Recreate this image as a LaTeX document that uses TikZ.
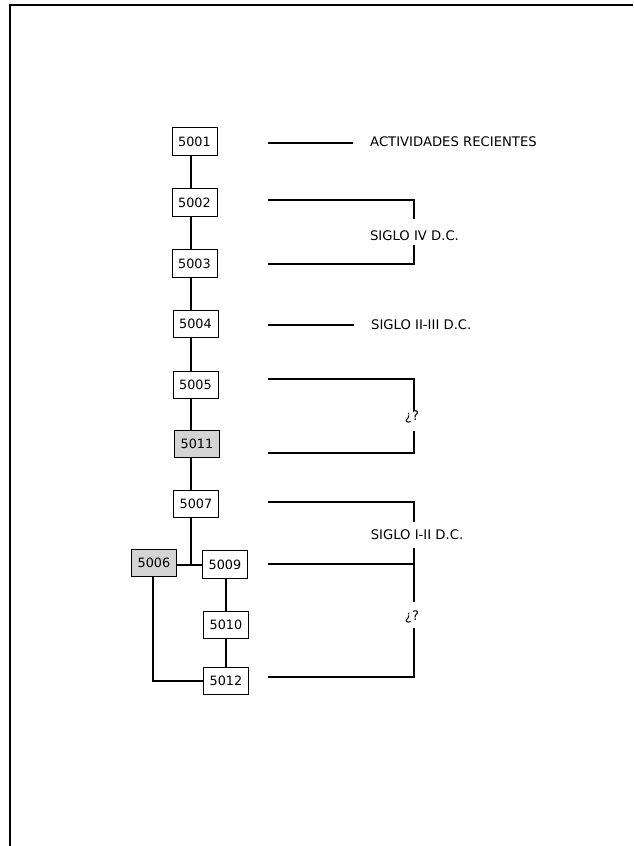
\documentclass[tikz,border=0pt]{standalone}
\usepackage{fontspec}
\setmainfont{DejaVu Sans}
\begin{document}
\begin{tikzpicture}[x=1pt,y=-1pt,
  box/.style={draw, line width=0.9pt, minimum width=45pt, minimum height=27.5pt, inner sep=0pt, font=\fontsize{12.8}{14}\selectfont},
  gbox/.style={box, fill=boxgray},
  conn/.style={line width=1.8pt},
  lab/.style={font=\fontsize{13.2}{14}\selectfont, inner sep=0pt},
  frame/.style={line width=2pt}]
\definecolor{boxgray}{RGB}{212,212,212}
\useasboundingbox (0,0) rectangle (633,846);
% frame
\draw[frame] (9.5,846) -- (9.5,4.5) -- (633,4.5);
% nodes
\node[box] (n5001) at (194.5,141.5) {5001};
\node[box] (n5002) at (194.5,202.5) {5002};
\node[box] (n5003) at (194.5,263.5) {5003};
\node[box] (n5004) at (195.5,324) {5004};
\node[box] (n5005) at (195.5,385) {5005};
\node[gbox] (n5011) at (197,444) {5011};
\node[box] (n5007) at (196,504) {5007};
\node[gbox] (n5006) at (154,563) {5006};
\node[box] (n5009) at (225,564.5) {5009};
\node[box] (n5010) at (226,625) {5010};
\node[box] (n5012) at (226,681) {5012};
% helper coordinates
\coordinate (T) at (191,0);
\coordinate (L) at (153,0);
\coordinate (R) at (226,0);
\coordinate (J) at (191,565);
% trunk
\draw[conn] (n5001.south -| T) -- (n5002.north -| T);
\draw[conn] (n5002.south -| T) -- (n5003.north -| T);
\draw[conn] (n5003.south -| T) -- (n5004.north -| T);
\draw[conn] (n5004.south -| T) -- (n5005.north -| T);
\draw[conn] (n5005.south -| T) -- (n5011.north -| T);
\draw[conn] (n5011.south -| T) -- (n5007.north -| T);
\draw[conn] (n5007.south -| T) -- (J);
\draw[conn] (n5006.east |- J) -- (n5009.west |- J);
\draw[conn] (n5009.south -| R) -- (n5010.north -| R);
\draw[conn] (n5010.south -| R) -- (n5012.north -| R);
\draw[conn] (n5006.south -| L) -- (L |- n5012.west) -- (n5012.west);
% right side
\coordinate (a1) at (268,143); \coordinate (a2) at (353,143);
\draw[conn] (a1) -- (a2);
\node[lab, anchor=west] (t1) at (370,142) {ACTIVIDADES RECIENTES};

\coordinate (b1) at (268,200); \coordinate (b2) at (414,200); \coordinate (b3) at (414,219);
\coordinate (b4) at (414,245); \coordinate (b5) at (414,264); \coordinate (b6) at (268,264);
\draw[conn] (b1) -- (b2) -- (b3);
\draw[conn] (b4) -- (b5) -- (b6);
\node[lab] (t2) at (414.5,236) {SIGLO IV D.C.};

\coordinate (c1) at (268,325); \coordinate (c2) at (354,325);
\draw[conn] (c1) -- (c2);
\node[lab, anchor=west] (t3) at (371,325) {SIGLO II-III D.C.};

\coordinate (d1) at (268,379); \coordinate (d2) at (414,379); \coordinate (d3) at (414,411);
\coordinate (d4) at (414,431); \coordinate (d5) at (414,453); \coordinate (d6) at (268,453);
\draw[conn] (d1) -- (d2) -- (d3);
\draw[conn] (d4) -- (d5) -- (d6);
\node[lab] (t4) at (412,417) {¿?};

\coordinate (e1) at (268,502); \coordinate (e2) at (414,502); \coordinate (e3) at (414,522);
\coordinate (e4) at (414,548); \coordinate (e5) at (414,602);
\coordinate (e6) at (268,564); \coordinate (e7) at (414,564);
\coordinate (e8) at (414,628); \coordinate (e9) at (414,677); \coordinate (e10) at (268,677);
\draw[conn] (e1) -- (e2) -- (e3);
\draw[conn] (e4) -- (e5);
\draw[conn] (e6) -- (e7);
\draw[conn] (e8) -- (e9) -- (e10);
\node[lab] (t5) at (417,535) {SIGLO I-II D.C.};
\node[lab] (t6) at (412,617) {¿?};
\end{tikzpicture}
\end{document}
